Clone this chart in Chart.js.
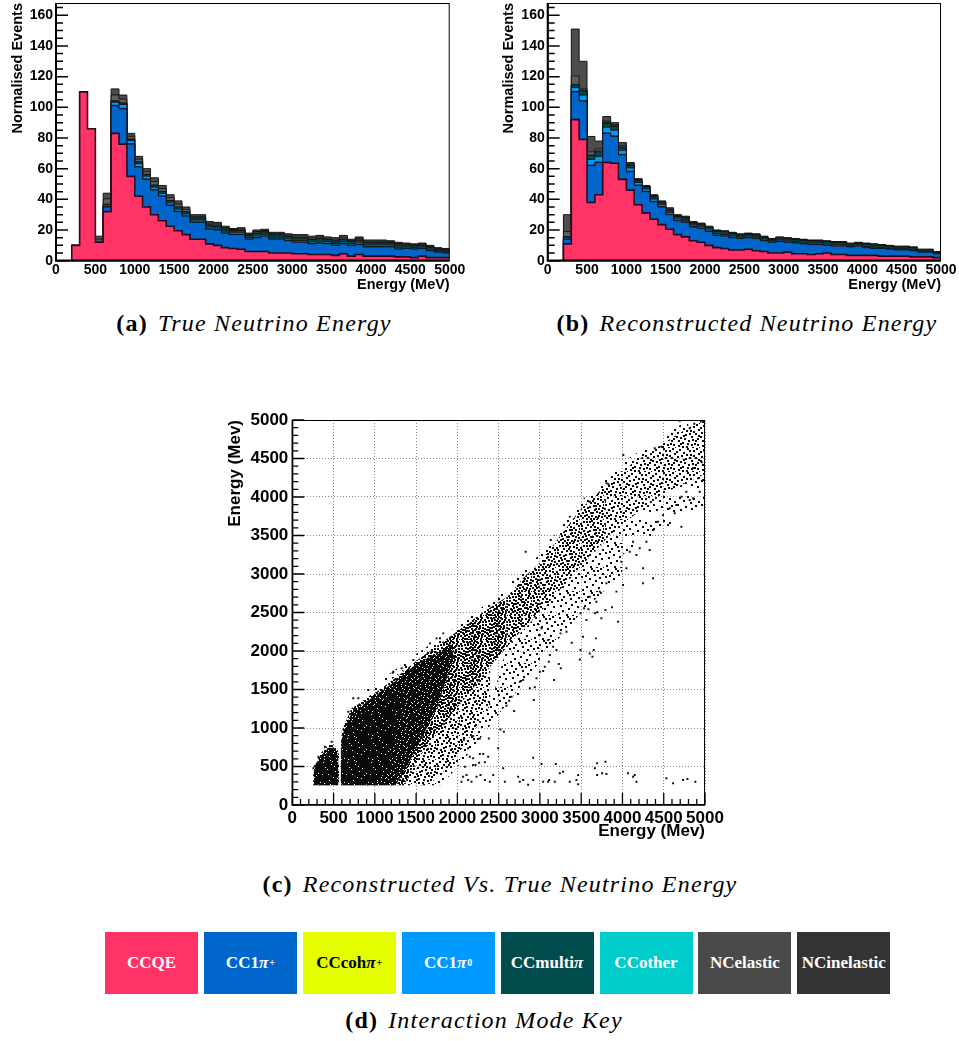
<!DOCTYPE html>
<html>
<head>
<meta charset="utf-8">
<script src="https://cdn.jsdelivr.net/npm/chart.js@4.4.1/dist/chart.umd.min.js"></script>
<style>
    body { margin: 0; background: #fff; width: 959px; height: 1041px; position: relative; overflow: hidden; }
    canvas { position: absolute; }
    .cap { position: absolute; white-space: nowrap; font-family: "Liberation Serif", serif; font-size: 24px; letter-spacing: 1.2px; transform: translate(-50%, -50%); color: #000; }
    .cap b { margin-right: 10px; }
    .key { position: absolute; top: 932px; width: 93px; height: 62px; display: flex; align-items: center; justify-content: center; font-family: "Liberation Serif", serif; font-weight: bold; font-size: 17px; color: #fff; }
    .key sup { font-size: 10px; vertical-align: 8px; line-height: 0; margin-left: 1px; }
</style>
</head>
<body>
<canvas id="trueChart" width="470" height="300" style="left:0;top:0"></canvas>
<canvas id="recoChart" width="479" height="300" style="left:480px;top:0"></canvas>
<canvas id="scatterChart" width="520" height="450" style="left:220px;top:400px"></canvas>

<div class="cap" style="left:254px;top:323px"><b>(a)</b><i>True Neutrino Energy</i></div>
<div class="cap" style="left:747px;top:323px"><b>(b)</b><i>Reconstructed Neutrino Energy</i></div>
<div class="cap" style="left:500px;top:884px"><b>(c)</b><i>Reconstructed Vs. True Neutrino Energy</i></div>
<div id="keyRow"></div>
<div class="cap" style="left:484px;top:1020px"><b>(d)</b><i>Interaction Mode Key</i></div>

<script>
// Histogram bin edges (MeV); each bin is 100 MeV wide
const binEdges = [0,100,200,300,400,500,600,700,800,900,1000,1100,1200,1300,1400,1500,1600,1700,1800,1900,
    2000,2100,2200,2300,2400,2500,2600,2700,2800,2900,3000,3100,3200,3300,3400,3500,3600,3700,3800,3900,
    4000,4100,4200,4300,4400,4500,4600,4700,4800,4900,5000];

// True neutrino energy, events per bin for each interaction mode
const ccqeTrue = [0,0,10,110,86,12,32,83,76,55, 42,35,30,26,22.5,19.5,17,14,14,11, 10,8.5,8,7.5,6,6,6,5,5,5,
    4.5,4.5,4,4,4,3.5,4.5,3,4,3, 3,3,3,2.5,2.5,2,3,2,2,2];
const cc1pipTrue = [0,0,0,0,0,0,3,18,23,21, 19,18,16,16,13.5,12.5,12,11,11,9.5, 10,9.5,9,9.5,8,9,10,9,9,8,
    7.5,7.5,7,7.5,7,6.5,6.5,7,6.5,6, 6,6,6,5,5.5,5.5,5,4.5,3.5,3];
const cccohTrue = [0,0,0,0,0,0,0.3,0.3,0.3,0.3, 0.3,0.3,0.3,0.3,0.3,0.3,0.3,0.3,0.3,0.3, 0.3,0.2,0.2,0.2,0.2,0.2,0.2,0.2,0.2,0.2,
    0.2,0.2,0.2,0.2,0.2,0.2,0.2,0.2,0.2,0.2, 0.2,0.2,0.2,0.2,0.2,0.2,0.2,0.2,0.2,0.2];
const cc1pi0True = [0,0,0,0,0,0,1,2,2.5,2, 2,1.8,1.6,1.5,1.4,1.3,1.2,1.2,1.2,1.1, 1,1,1,1,1,1,1,1,1,1,
    1,1,1,1,1,1,1,1,1,1, 1,1,1,1,0.8,0.8,0.8,0.8,0.7,0.7];
const ccmultiTrue = [0,0,0,0,0,0,0.3,0.8,0.8,0.8, 1,1,1.2,1.2,1.3,1.3,1.3,1.2,1.2,1.3, 1.3,1.3,1.2,1.4,1.3,1.6,1.5,1.5,1.5,1.5,
    1.6,1.6,1.6,1.6,1.5,1.6,1.7,1.3,1.6,1.5, 1.5,1.5,1.4,1.5,1.2,1.2,1.2,1.2,1,1];
const ccotherTrue = [0,0,0,0,0,0,0.2,0.2,0.2,0.2, 0.2,0.2,0.2,0.2,0.2,0.2,0.2,0.2,0.2,0.2, 0.2,0.2,0.2,0.2,0.2,0.2,0.2,0.2,0.2,0.2,
    0.2,0.2,0.2,0.2,0.2,0.2,0.2,0.2,0.2,0.2, 0.2,0.2,0.2,0.2,0.2,0.2,0.2,0.2,0.2,0.2];
const ncelTrue = [0,0,0,0,0,2,3.6,3.8,2.6,1.8, 1.7,1.8,2.3,1.9,1.9,1.9,1.5,1,1,1, 1.1,0.9,0.7,0.8,0.6,1,0.8,0.8,0.8,0.8,
    1,1,1,1,0.8,1,1.2,0.6,1,0.8, 0.8,0.8,0.6,0.8,0.5,0.5,0.5,0.5,0.4,0.4];
const ncinelTrue = [0,0,0,0,0,2,3.6,3.9,2.6,1.9, 1.8,1.9,2.4,1.9,1.9,2,1.5,1.1,1.1,1.1, 1.1,0.9,0.7,0.9,0.7,1,0.8,0.8,0.8,0.8,
    1,1,1,1,0.8,1,1.2,0.7,1,0.8, 0.8,0.8,0.6,0.8,0.6,0.6,0.6,0.6,0.5,0.5];

// Reconstructed neutrino energy, events per bin for each interaction mode
const ccqeReco = [0,0,11,92,79,38,43,64,63.5,53, 46,36.5,31,27,23.5,20.5,17,15.5,13,12, 10,8.5,8,7,7,7.5,6.5,6,5,5,
    5.6,4.5,4.5,4,4.5,5,4,4,3.5,3.5, 3.5,3.5,3,3,3,3,2.5,2.5,2.5,2];
const cc1pipReco = [0,0,3,18,25,24,21,19,17.5,16, 12,12.5,14,11.4,11.5,9.5,9,9.5,9,9, 9,8,8,8,7.5,7.5,8,7,7,7.5,
    6.4,7,6.5,6.5,6,5,5.5,5.5,5.5,6, 5,4.5,5,4.5,4,4,4,3,3,2.5];
const cccohReco = [0,0,0,0.3,0.3,0.3,0.3,0.3,0.3,0.3, 0.3,0.3,0.3,0.3,0.3,0.3,0.3,0.3,0.3,0.2, 0.2,0.2,0.2,0.2,0.2,0.2,0.2,0.2,0.2,0.2,
    0.2,0.2,0.2,0.2,0.2,0.2,0.2,0.2,0.2,0.2, 0.2,0.2,0.2,0.2,0.2,0.2,0.2,0.2,0.2,0.2];
const cc1pi0Reco = [0,0,1,2.7,3.7,3.7,3.7,3.7,3.7,2.7, 2.2,1.7,1.5,1.5,1.2,1.2,1,1,1,1, 0.9,0.9,0.9,0.9,0.8,0.8,0.8,0.8,0.7,0.8,
    0.8,0.8,0.8,0.8,0.8,0.8,0.8,0.8,0.6,0.6, 0.6,0.6,0.5,0.5,0.5,0.5,0.5,0.4,0.4,0.4];
const ccmultiReco = [0,0,0.5,1.5,2.5,2.5,3,2.5,2.5,1.7, 1.5,1.3,1.3,1.5,1.3,1.5,1.5,1.5,1.2,1.3, 1.4,1.5,1.5,1.5,1.2,1.2,1.2,1.2,1,1.2,
    1.2,1.2,1.2,1.2,1.2,1.2,1.2,1.2,1,1, 1.4,1.4,1.2,1.2,1.2,1.2,1.2,1,1,0.6];
const ccotherReco = [0,0,0,0.5,0.5,0.5,0.5,0.5,0.5,0.3, 0.3,0.3,0.3,0.3,0.3,0.3,0.3,0.3,0.3,0.3, 0.3,0.3,0.3,0.3,0.2,0.2,0.2,0.2,0.2,0.2,
    0.2,0.2,0.2,0.2,0.2,0.2,0.2,0.2,0.2,0.2, 0.2,0.2,0.2,0.2,0.2,0.2,0.2,0.2,0.2,0.1];
const ncelReco = [0,0,3.5,5.5,1,2,1.5,1,0.7,1, 0.7,0.4,0.3,0.5,0.4,0.5,0.4,0.4,0.3,0.3, 0.3,0.3,0.3,0.3,0.3,0.3,0.3,0.3,0.2,0.3,
    0.3,0.3,0.3,0.3,0.3,0.3,0.3,0.3,0.2,0.2, 0.3,0.3,0.2,0.2,0.2,0.2,0.2,0.1,0.1,0.1];
const ncinelReco = [0,0,11,30.5,18,10,5,3,1.3,2, 1,0.5,0.3,0.5,0.5,0.7,0.5,0.5,0.4,0.4, 0.4,0.3,0.3,0.3,0.3,0.3,0.3,0.3,0.2,0.3,
    0.3,0.3,0.3,0.3,0.3,0.3,0.3,0.3,0.3,0.3, 0.3,0.3,0.2,0.2,0.2,0.2,0.2,0.1,0.1,0.1];

// Reconstructed vs true energy: outlines of the populated regions [true, reco], densest first
const smallSolidTop = [[270,400],[300,500],[350,580],[420,650],[480,670],[525,620],[548,540]];
const smallSolidBottom = [[270,265],[548,265]];
const smallDarkTop = [[260,450],[285,540],[335,615],[385,685],[440,745],[500,745],[538,700],[560,620]];
const smallDarkBottom = [[260,258],[560,258]];
const smallFringeTop = [[252,500],[280,575],[330,650],[380,720],[440,785],[500,785],[545,730],[568,650]];
const smallFringeBottom = [[252,255],[568,255]];
const coreSolidTop = [[594,520],[614,800],[650,940],[720,1080],[800,1150],[920,1240],[1050,1320],[1200,1400],[1350,1480]];
const coreSolidBottom = [[594,265],[1000,265],[1100,400],[1200,650],[1350,1300]];
const coreDarkTop = [[588,650],[605,900],[650,1030],[720,1200],[800,1260],[920,1360],[1050,1450],[1260,1620],[1525,1850],[1800,2000],[1950,2100]];
const coreDarkBottom = [[588,258],[1250,258],[1400,520],[1550,830],[1750,1250],[1950,1900]];
const coreFringeTop = [[585,720],[600,960],[650,1090],[720,1260],[800,1310],[920,1410],[1050,1490],[1260,1660],[1525,1890],[1930,2200],[2330,2520],[2600,2700]];
const coreFringeBottom = [[585,255],[1350,255],[1550,640],[1800,1000],[2100,1400],[2400,1800],[2600,2050]];
const denseBandTop = [[2600,2700],[2800,2950],[3000,3150]];
const denseBandBottom = [[2600,2050],[2800,2300],[3000,2500]];
const midBandTop = [[3000,3150],[3500,3850],[3800,4150]];
const midBandBottom = [[3000,2500],[3500,3100],[3800,3450]];
const sparseBandTop = [[3800,4150],[4000,4350],[4500,4700],[4800,4900],[5000,5000]];
const sparseBandBottom = [[3800,3450],[4000,3650],[4500,4050],[5000,4300]];
const innerHaloTop = [[1350,255],[1550,640],[1800,1000],[2100,1400],[2400,1800]];
const innerHaloBottom = [[1350,255],[1650,255],[1900,500],[2200,950],[2400,1300]];
const haloTop = [[1600,255],[1900,500],[2200,950],[2400,1300],[2600,2050],[3000,2500],[3500,3100],[4000,3650]];
const haloBottom = [[1600,255],[1800,255],[2050,550],[2300,900],[2700,1450],[3100,2000],[3500,2500],[4000,3000]];
const upperFringeTop = [[1000,1560],[1500,1960],[2000,2320],[2500,2740],[3000,3260],[3500,3950],[4000,4450],[4500,4800],[4800,5000]];
const upperFringeBottom = [[1000,1470],[1500,1870],[2000,2220],[2500,2640],[3000,3140],[3500,3840],[4000,4340],[4500,4690],[4800,4890]];
const lowerFringeTop = [[3800,3450],[4000,3650],[4500,4050],[5000,4300]];
const lowerFringeBottom = [[3800,3050],[4000,3250],[4500,3600],[5000,3900]];

// Individual events lying outside the dense regions [true, reco]
const strayEvents = [
    [2070,368],[2131,324],[2171,303],[2232,368],[2280,389],[2333,324],[2393,303],[2434,389],[2555,476],[2575,303],
    [2736,368],[2756,303],[2797,324],[2857,262],[2918,324],[2918,614],[3019,532],[3039,303],[3100,303],[3112,324],
    [3180,303],[3192,532],[3241,411],[3281,433],[3362,303],[3443,324],[3463,389],[3463,268],[3665,476],[3693,541],
    [3693,389],[3753,411],[3794,563],[3806,402],[4068,411],[4129,368],[4169,303],[4149,389],[4532,346],[4613,281],
    [4734,324],[4787,337],[4883,303],
    [2091,498],[2151,627],[2191,606],[2191,519],[2220,519],[2264,549],[2272,662],[2313,662],[2333,554],[2373,627],
    [2111,389],[2050,303],[2494,736],[2563,952],[2522,982],[2272,865],[2381,865],[2191,896],[2131,736],[2078,844],
    [2926,1363],[2688,1220],[2595,1290],[2627,1355],[2656,1407],[2736,1441],[2756,1601],[2797,1623],[2878,1515],[2938,1528],
    [2958,1645],[2999,1731],[3059,1796],[3039,1740],[3172,1623],[3229,1831],[3253,1775],[3108,1861],[3120,1948],[3160,2056],
    [3200,2013],[3100,2143],[2999,2207],[3019,2294],[3249,2229],[3322,2251],[3386,2108],[3491,2013],[3483,1891],[3523,2186],
    [3677,2164],[3604,1969],[3636,1926],[3652,2013],[3564,2402],[3491,2489],[3535,2554],[3588,2541],[3665,2489],[3693,2502],
    [3745,2424],[3794,2532],[3874,2567],[3947,2381],
    [4976,4221],[4916,4242],[4855,4372],[4815,3961],[4774,4069],[4714,4004],[4653,3896],[4633,3788],[4572,3853],[4492,3766],
    [4552,3636],[4431,3680],[4371,3571],[4290,3420],[4330,3312],[4209,3333],[4128,3420],[4169,3247],[4088,3290],[3987,3160],
    [4048,3074],[4250,3074],[4371,2944],[4250,2879],[4007,2857],[3927,2771],[3806,2879],[3725,2771],[3604,2706],[3684,2641],
    [4714,3615],[4855,3983],[4936,4069],
    [2827,3290],[3829,4169],[4010,4545],[1789,2165],[1224,1732],[739,1385],[3806,4178],[4471,4654],[4694,4990],[4815,4892],
    [4391,4632],[3132,3442],[3362,3745],[3604,3939],[4950,4980],[4870,4950],[4990,4600],[4960,4450],
    [800,1385],[921,1493],[1216,1718],[1325,1775],[1365,1818],[1466,1883],[1668,2099],[1748,2164],[1829,2229],[679,1212],
    [396,757],[477,822],[316,627],[255,476]
];

const modeLabels = ['CCQE', 'CC1<i>π</i><sup>+</sup>', 'CCcoh<i>π</i><sup>+</sup>', 'CC1<i>π</i><sup>0</sup>',
    'CCmulti<i>π</i>', 'CCother', 'NCelastic', 'NCinelastic'];
const modeColours = ['#ff3366', '#0066cc', '#e6ff00', '#0099ff', '#004c4c', '#00cccc', '#4a4a4a', '#333333'];
const stackColours = ['#ff3366', '#0066cc', '#e6ff00', '#0099ff', '#004c4c', '#00cccc', '#5e5e5e', '#4d4d4d'];

const axisFont = (size) => ({family: '"Liberation Sans", Arial, sans-serif', size: size, weight: 'bold'});

// frame and inward-pointing ticks in the ROOT style
const rootFrame = {
    id: 'rootFrame',
    afterDatasetsDraw(chart, args, opts)
    {
        const {ctx, chartArea: area, scales: {x, y}} = chart;
        ctx.save();
        ctx.strokeStyle = '#000';
        ctx.lineWidth = 1;
        ctx.strokeRect(area.left + 0.5, area.top + 0.5, area.width - 1, area.height - 1);

        ctx.lineWidth = opts.axisWidth;
        ctx.beginPath();
        ctx.moveTo(area.left, area.top);
        ctx.lineTo(area.left, area.bottom);
        ctx.lineTo(area.right, area.bottom);
        ctx.stroke();

        ctx.lineWidth = opts.tickWidth;
        ctx.beginPath();
        for (let v = y.min; v <= y.max + 1e-6; v += opts.yMinor)
        {
            const py = y.getPixelForValue(v);
            const len = Math.abs(v % opts.yMajor) < 1e-6 ? opts.majorLen : opts.minorLen;
            ctx.moveTo(area.left, py);
            ctx.lineTo(area.left + len, py);
        }
        if (opts.xMinor)
        {
            for (let v = x.min; v <= x.max + 1e-6; v += opts.xMinor)
            {
                const px = x.getPixelForValue(v);
                const len = Math.abs(v % opts.xMajor) < 1e-6 ? opts.majorLen : opts.minorLen;
                ctx.moveTo(px, area.bottom);
                ctx.lineTo(px, area.bottom - len);
            }
        }
        ctx.stroke();
        ctx.restore();
    }
};

const stepPoints = (values) => binEdges.map((edge, i) => ({x: edge, y: values[Math.min(i, values.length - 1)]}));

const stackDatasets = (layers) => layers.map((values, i) => ({
    data: stepPoints(values),
    stepped: 'before',
    fill: i === 0 ? 'origin' : '-1',
    backgroundColor: stackColours[i],
    borderColor: i === 0 ? '#2a0a1e' : '#141414',
    borderWidth: i === 0 ? 1.6 : 1,
    pointRadius: 0
}));

const pinScale = (size, vertical) => (scale) =>
{
    if (vertical) scale.width = size; else scale.height = size;
    scale.paddingTop = 0;
    scale.paddingBottom = 0;
    scale.paddingLeft = 0;
    scale.paddingRight = 0;
};

const plainNumber = {useGrouping: false};

const histogramChart = (canvasId, layers, yWidth, yTitlePad, rightPad) =>
{
    return new Chart(document.getElementById(canvasId), {
        type: 'line',
        data: {datasets: stackDatasets(layers)},
        plugins: [rootFrame],
        options: {
            responsive: false,
            animation: false,
            devicePixelRatio: 1,
            layout: {padding: {top: 3, right: rightPad, left: 0, bottom: 0}},
            plugins: {
                legend: {display: false},
                tooltip: {enabled: false},
                rootFrame: {axisWidth: 2, tickWidth: 1.5, yMajor: 20, yMinor: 5, majorLen: 12, minorLen: 7}
            },
            scales: {
                x: {
                    type: 'linear', min: 0, max: 5000,
                    grid: {display: false, drawTicks: false}, border: {display: false},
                    ticks: {stepSize: 500, autoSkip: false, maxRotation: 0, padding: 1, color: '#000', font: axisFont(14), format: plainNumber},
                    title: {display: true, text: 'Energy (MeV)', align: 'end', color: '#000', font: axisFont(14.5), padding: {top: 0, bottom: 6}},
                    afterFit: pinScale(39.3, false)
                },
                y: {
                    stacked: true, min: 0, max: 168,
                    grid: {display: false, drawTicks: false}, border: {display: false},
                    ticks: {stepSize: 20, includeBounds: false, autoSkip: false, padding: 3, color: '#000', font: axisFont(14)},
                    title: {display: true, text: 'Normalised Events', align: 'end', color: '#000', font: axisFont(14.5), padding: {top: yTitlePad, bottom: 0}},
                    afterFit: pinScale(yWidth, true)
                }
            }
        }
    });
};

histogramChart('trueChart',
    [ccqeTrue, cc1pipTrue, cccohTrue, cc1pi0True, ccmultiTrue, ccotherTrue, ncelTrue, ncinelTrue], 56, 9, 20.3);
histogramChart('recoChart',
    [ccqeReco, cc1pipReco, cccohReco, cc1pi0Reco, ccmultiReco, ccotherReco, ncelReco, ncinelReco], 67.7, 20, 18);

// speckled fills used to shade the populated parts of the scatter (offsets in a 24px tile)
const speckle = [[3,1],[11,0],[17,2],[22,5],[7,4],[14,6],[1,8],[19,9],[9,10],[4,13],[15,12],[21,14],[12,16],[6,18],[18,19],
    [2,21],[10,22],[23,23],[16,23],[13,2],[20,0],[5,7],[10,6],[0,3],[17,7],[22,11],[8,14],[13,9],[2,16],[19,16],
    [11,19],[6,22],[15,20],[21,20],[0,12],[7,11],[16,15],[4,19],[9,1],[14,13],[23,8],[1,5],[12,4],[18,12],[5,15],
    [10,16],[20,3],[3,10],[15,9],[8,20],[13,22],[22,17],[0,19],[6,1],[17,21],[11,12],[19,5],[2,0],[9,17],[14,18],
    [21,1],[4,4],[16,10],[7,8],[12,7],[23,14],[1,23],[18,15],[5,11],[10,3],[20,22],[3,17],[14,0],[8,23],[22,8],
    [6,14],[15,4],[11,9],[17,17],[0,15],[13,20],[19,11],[7,2],[2,13],[21,18],[9,7],[16,1],[4,22],[12,14],[18,6]];

// dots: black specks on a clear tile; holes: a black tile with white specks
const speckleFill = (count, holes = 0) =>
{
    const tile = document.createElement('canvas');
    tile.width = 24;
    tile.height = 24;
    const t = tile.getContext('2d');
    t.fillStyle = '#0a0a0a';
    if (holes)
    {
        t.fillRect(0, 0, 24, 24);
        t.fillStyle = '#fff';
        speckle.slice(speckle.length - count).forEach(([dx, dy]) => t.fillRect(dx, dy, holes, holes));
    }
    else
    {
        speckle.slice(0, count).forEach(([dx, dy]) => t.fillRect(dx, dy, 2, 2));
    }
    return t.createPattern(tile, 'repeat');
};

const regionDatasets = (top, bottom, fillStyle) => [
    {type: 'line', data: top, fill: '+1', backgroundColor: fillStyle, borderWidth: 0, pointRadius: 0, tension: 0},
    {type: 'line', data: bottom, fill: false, borderWidth: 0, pointRadius: 0, tension: 0}
];

const nearlySolid = speckleFill(18, 1);
const dark = speckleFill(48, 1);
const dense = speckleFill(90);

new Chart(document.getElementById('scatterChart'), {
    type: 'scatter',
    data: {
        datasets: [
            {data: strayEvents, pointStyle: 'rect', pointRadius: 1.4, backgroundColor: '#111', borderWidth: 0},
            ...regionDatasets(coreSolidTop, coreSolidBottom, nearlySolid),
            ...regionDatasets(smallSolidTop, smallSolidBottom, nearlySolid),
            ...regionDatasets(coreDarkTop, coreDarkBottom, dark),
            ...regionDatasets(smallDarkTop, smallDarkBottom, dark),
            ...regionDatasets(coreFringeTop, coreFringeBottom, dense),
            ...regionDatasets(smallFringeTop, smallFringeBottom, speckleFill(60)),
            ...regionDatasets(denseBandTop, denseBandBottom, speckleFill(72)),
            ...regionDatasets(midBandTop, midBandBottom, speckleFill(55)),
            ...regionDatasets(sparseBandTop, sparseBandBottom, speckleFill(38)),
            ...regionDatasets(innerHaloTop, innerHaloBottom, speckleFill(45)),
            ...regionDatasets(haloTop, haloBottom, speckleFill(22)),
            ...regionDatasets(upperFringeTop, upperFringeBottom, speckleFill(12)),
            ...regionDatasets(lowerFringeTop, lowerFringeBottom, speckleFill(12))
        ]
    },
    plugins: [rootFrame],
    options: {
        responsive: false,
        animation: false,
        devicePixelRatio: 1,
        layout: {padding: {top: 20, right: 35, left: 0, bottom: 0}},
        plugins: {
            legend: {display: false},
            tooltip: {enabled: false},
            rootFrame: {axisWidth: 1.5, tickWidth: 1.3, yMajor: 500, yMinor: 100, xMajor: 500, xMinor: 100, majorLen: 12, minorLen: 6}
        },
        scales: {
            x: {
                type: 'linear', min: 0, max: 5000,
                grid: {color: '#8a8a8a', lineWidth: 1, drawTicks: false},
                border: {display: false, dash: [1, 2]},
                ticks: {stepSize: 500, autoSkip: false, maxRotation: 0, padding: 3, color: '#000', font: axisFont(17), format: plainNumber},
                title: {display: true, text: 'Energy (Mev)', align: 'end', color: '#000', font: axisFont(17), padding: {top: 0, bottom: 8}},
                afterFit: pinScale(45, false)
            },
            y: {
                type: 'linear', min: 0, max: 5000,
                grid: {color: '#8a8a8a', lineWidth: 1, drawTicks: false},
                border: {display: false, dash: [1, 2]},
                ticks: {stepSize: 500, autoSkip: false, padding: 4, color: '#000', font: axisFont(17), format: plainNumber},
                title: {display: true, text: 'Energy (Mev)', align: 'end', color: '#000', font: axisFont(17), padding: {top: 5, bottom: 0}},
                afterFit: pinScale(72.3, true)
            }
        }
    }
});

// interaction mode key
const keyRow = document.getElementById('keyRow');
modeLabels.forEach((label, i) =>
{
    const box = document.createElement('div');
    box.className = 'key';
    box.style.left = (105 + i * 98.9) + 'px';
    box.style.background = modeColours[i];
    if (i === 2) box.style.color = '#000';
    box.innerHTML = label;
    keyRow.appendChild(box);
});
</script>
</body>
</html>
